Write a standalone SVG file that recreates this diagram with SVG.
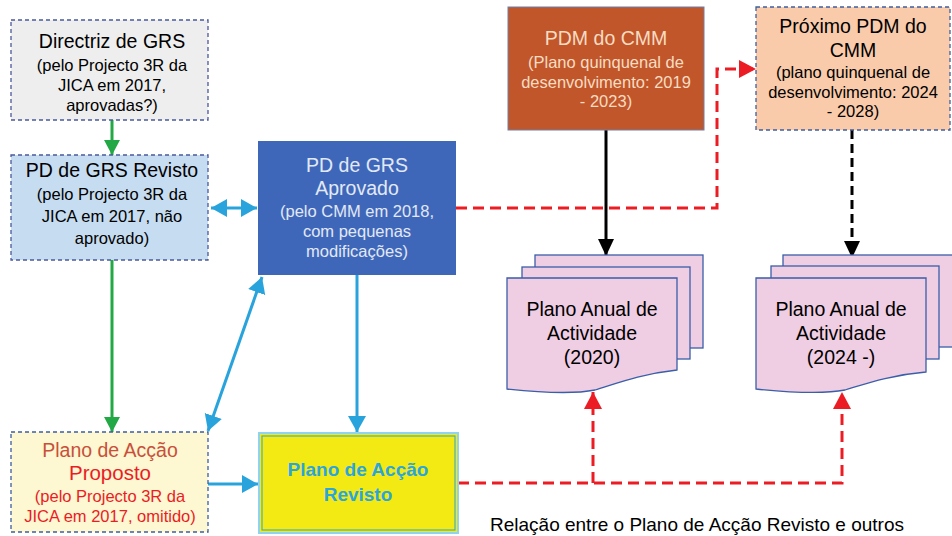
<svg xmlns="http://www.w3.org/2000/svg" width="952" height="536" viewBox="0 0 952 536">
<defs>
<style>
text{font-family:"Liberation Sans",Arial,sans-serif;text-anchor:middle}
.t19{font-size:19.5px}
.t16{font-size:16.5px}
.dash{stroke:#4a5a9a;stroke-width:1.3;stroke-dasharray:4 3}
.doc{fill:#efcde3;stroke:#3a5ea8;stroke-width:1.3}
.green{stroke:#22a845;stroke-width:3;fill:none}
.blue{stroke:#29a3dc;stroke-width:3;fill:none}
.red{stroke:#ec1c24;stroke-width:3;fill:none;stroke-dasharray:11 6}
</style>
<marker id="mg" markerUnits="userSpaceOnUse" markerWidth="18" markerHeight="18" viewBox="0 0 18 18" refX="15" refY="9" orient="auto"><path d="M0,1 L15,9 L0,17 Z" fill="#22a845"/></marker>
<marker id="mb" markerUnits="userSpaceOnUse" markerWidth="18" markerHeight="20" viewBox="0 0 18 20" refX="16" refY="10" orient="auto-start-reverse"><path d="M0,1 L16,10 L0,19 Z" fill="#29a3dc"/></marker>
<marker id="mk" markerUnits="userSpaceOnUse" markerWidth="18" markerHeight="18" viewBox="0 0 18 18" refX="17" refY="9" orient="auto"><path d="M0,1 L17,9 L0,17 Z" fill="#000"/></marker>
<marker id="mr" markerUnits="userSpaceOnUse" markerWidth="18" markerHeight="20" viewBox="0 0 18 20" refX="17" refY="10" orient="auto"><path d="M0,1 L17,10 L0,19 Z" fill="#ec1c24"/></marker>
</defs>
<rect width="952" height="536" fill="#fff"/>

<g id="connectors">
<line class="green" x1="112" y1="120" x2="112" y2="155" marker-end="url(#mg)"/>
<line class="green" x1="112" y1="260" x2="112" y2="432" marker-end="url(#mg)"/>
<line class="blue" x1="211" y1="208" x2="257" y2="208" marker-start="url(#mb)" marker-end="url(#mb)"/>
<line class="blue" x1="208" y1="431" x2="262" y2="277" marker-start="url(#mb)" marker-end="url(#mb)"/>
<line class="blue" x1="357" y1="275" x2="357" y2="432" marker-end="url(#mb)"/>
<line class="blue" x1="208" y1="484" x2="258" y2="484" marker-end="url(#mb)"/>
<line x1="606" y1="130" x2="606" y2="256" stroke="#000" stroke-width="3" marker-end="url(#mk)"/>
<line x1="852" y1="130" x2="852" y2="258" stroke="#000" stroke-width="3" stroke-dasharray="9 5" marker-end="url(#mk)"/>
<path class="red" d="M456,208 H717 V69 H756" marker-end="url(#mr)"/>
<path class="red" d="M458,483 H842 V392" marker-end="url(#mr)"/>
<path class="red" d="M593,483 V392" marker-end="url(#mr)"/>
</g>

<g id="directriz">
<rect x="11" y="20" width="197" height="100" fill="#eeeeee" class="dash"/>
<text x="112" y="48" class="t19">Directriz de GRS</text>
<text x="112" y="71" class="t16">(pelo Projecto 3R da</text>
<text x="112" y="91" class="t16">JICA em 2017,</text>
<text x="112" y="111" class="t16">aprovadas?)</text>
</g>

<g id="pd-revisto">
<rect x="11" y="155" width="197" height="105" fill="#c6dcf1" class="dash"/>
<text x="112" y="177" class="t19">PD de GRS Revisto</text>
<text x="112" y="200" class="t16">(pelo Projecto 3R da</text>
<text x="112" y="222" class="t16">JICA em 2017, não</text>
<text x="112" y="244" class="t16">aprovado)</text>
</g>

<g id="pd-aprovado">
<rect x="258" y="141" width="198" height="134" fill="#3f67b9"/>
<g fill="#e2e9f6">
<text x="357" y="172" class="t19">PD de GRS</text>
<text x="357" y="195" class="t19">Aprovado</text>
<text x="357" y="217" class="t16">(pelo CMM em 2018,</text>
<text x="357" y="237" class="t16">com pequenas</text>
<text x="357" y="257" class="t16">modificações)</text>
</g>
</g>

<g id="proposto">
<rect x="11" y="432" width="197" height="100" fill="#fdf7d2" stroke="#3d5fa0" stroke-width="1.3" stroke-dasharray="4 3"/>
<text x="110" y="457" class="t19" fill="#c8503a">Plano de Acção</text>
<text x="110" y="480" style="font-size:20.5px" fill="#ec1c24">Proposto</text>
<text x="110" y="502" class="t16" fill="#ec1c24">(pelo Projecto 3R da</text>
<text x="110" y="522" class="t16" fill="#ec1c24">JICA em 2017, omitido)</text>
</g>

<g id="revisto">
<rect x="259" y="433" width="199" height="100" fill="#f3e913" stroke="#8fd3ee" stroke-width="2"/>
<rect x="262" y="436" width="193" height="94" fill="none" stroke="#29a3dc" stroke-width="1"/>
<text x="358" y="476" style="font-size:19px;font-weight:bold" fill="#2aa5de">Plano de Acção</text>
<text x="358" y="501" style="font-size:19px;font-weight:bold" fill="#2aa5de">Revisto</text>
</g>

<g id="pdm">
<rect x="508" y="7" width="196" height="123" fill="#c1562a" stroke="#6f7fa8" stroke-width="1"/>
<g fill="#f8dcc2">
<text x="606" y="45" class="t19">PDM do CMM</text>
<text x="606" y="68" class="t16">(Plano quinquenal de</text>
<text x="606" y="88" class="t16">desenvolvimento: 2019</text>
<text x="606" y="107" class="t16">- 2023)</text>
</g>
</g>

<g id="proximo-pdm">
<rect x="756" y="7" width="194" height="123" fill="#f9cbaa" stroke="#3d5fa0" stroke-width="1.3" stroke-dasharray="4 3"/>
<text x="853" y="33" class="t19">Próximo PDM do</text>
<text x="853" y="57" class="t19">CMM</text>
<text x="853" y="78" class="t16">(plano quinquenal de</text>
<text x="853" y="98" class="t16">desenvolvimento: 2024</text>
<text x="853" y="117" class="t16">- 2028)</text>
</g>

<g id="plano-anual-2020">
<rect x="535" y="255" width="168" height="93" class="doc"/>
<rect x="522" y="267" width="168" height="92" class="doc"/>
<path d="M507,278 H677 V370 C640,374 615,384 595,390 C570,395 535,392 507,389 Z" class="doc"/>
<text x="592" y="316" class="t19">Plano Anual de</text>
<text x="592" y="340" class="t19">Actividade</text>
<text x="592" y="364" class="t19">(2020)</text>
</g>

<g id="plano-anual-2024">
<rect x="783" y="255" width="172" height="92" class="doc"/>
<rect x="771" y="266" width="168" height="93" class="doc"/>
<path d="M756,278 H926 V372 C890,375 865,384 845,390 C820,395 785,392 756,389 Z" class="doc"/>
<text x="841" y="316" class="t19">Plano Anual de</text>
<text x="841" y="340" class="t19">Actividade</text>
<text x="841" y="364" class="t19">(2024 -)</text>
</g>

<text x="697" y="531" style="font-size:19px">Relação entre o Plano de Acção Revisto e outros</text>
</svg>
